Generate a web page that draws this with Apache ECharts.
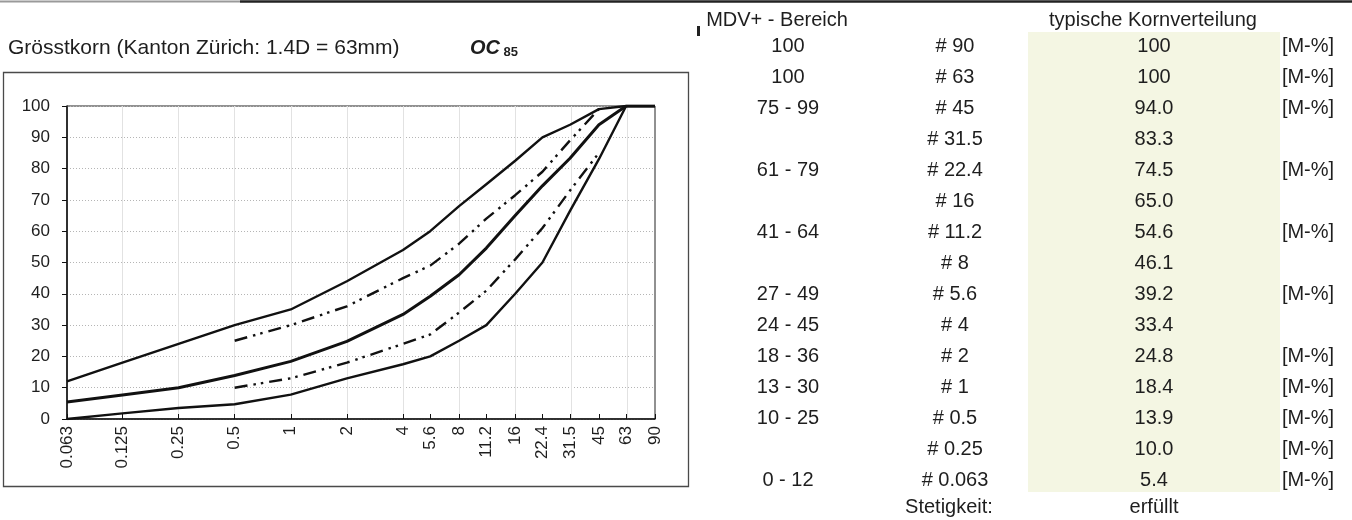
<!DOCTYPE html>
<html><head><meta charset="utf-8">
<script src="https://cdn.jsdelivr.net/npm/echarts@6/dist/echarts.min.js"></script>
<style>html,body{margin:0;padding:0;background:#fff}#c{width:1352px;height:520px}</style>
</head><body><div id="c"></div>
<script>
// ---- chart data ----
const sieves      = [0.063, 0.125, 0.25, 0.5, 1, 2, 4, 5.6, 8, 11.2, 16, 22.4, 31.5, 45, 63, 90];
const sieveLabels = ['0.063','0.125','0.25','0.5','1','2','4','5.6','8','11.2','16','22.4','31.5','45','63','90'];
const gridValues  = [0.125, 0.25, 0.5, 1, 2, 4, 8, 16, 32, 64];
const upperLimit  = [12, 18, 24, 30, 35, 44, 54, 60, 68, 75, 82.5, 90, 94, 99, 100, 100];
const upperBand   = [null, null, null, 25, 30, 36, 45, 49, 56, 64, 71.5, 79, 89, 99, null, null];
const typical     = [5.4, 7.7, 10.0, 13.9, 18.4, 24.8, 33.4, 39.2, 46.1, 54.6, 65.0, 74.5, 83.3, 94.0, 100, 100];
const lowerBand   = [null, null, null, 10, 13, 18, 24, 27, 34, 41, 51, 61, 73, 85, null, null];
const lowerLimit  = [0, 1.8, 3.5, 4.7, 7.8, 13, 17.5, 20, 25, 30, 40, 50, 66.5, 83, 100, 100];
const yMin = 0, yMax = 100, yStep = 10;

// ---- texts ----
const titleText = 'Grösstkorn (Kanton Zürich: 1.4D = 63mm)';
const headerRange = 'MDV+ - Bereich';
const headerTypical = 'typische Kornverteilung';
const rangeCol   = ['100','100','75 - 99','','61 - 79','','41 - 64','','27 - 49','24 - 45','18 - 36','13 - 30','10 - 25','','0 - 12'];
const sieveCol   = ['# 90','# 63','# 45','# 31.5','# 22.4','# 16','# 11.2','# 8','# 5.6','# 4','# 2','# 1','# 0.5','# 0.25','# 0.063'];
const typicalCol = ['100','100','94.0','83.3','74.5','65.0','54.6','46.1','39.2','33.4','24.8','18.4','13.9','10.0','5.4'];
const unitCol    = ['[M-%]','[M-%]','[M-%]','','[M-%]','','[M-%]','','[M-%]','','[M-%]','[M-%]','[M-%]','[M-%]','[M-%]'];
const footLabel = 'Stetigkeit:';
const footValue = 'erfüllt';

const FONT = '"Liberation Sans", Arial, sans-serif';
const INK = '#1e1e1e';

function pairs(arr){ return sieves.map((s,i)=>[s, arr[i]]); }
function nearestLabel(v){
  let best = 0, bd = Infinity;
  sieves.forEach((s,i)=>{ const d = Math.abs(Math.log(v/s)); if (d < bd){ bd = d; best = i; } });
  return sieveLabels[best];
}

const chart = echarts.init(document.getElementById('c'), null, {renderer:'canvas'});

const dashDot = [13, 6, 2.5, 5, 2.5, 6];
function lineSeries(name, arr, width, type){
  return {
    name, type:'line', xAxisIndex:0, yAxisIndex:0,
    data: pairs(arr), connectNulls:false, symbol:'none', silent:true,
    lineStyle:{color:'#111', width, type, cap:'butt', join:'round'},
    z: 5
  };
}

// table graphics
const g = [];
const colX = {range: 788, sieve: 955, typ: 1154, unit: 1308};
const rowY0 = 46, rowStep = 31;
function txt(text, x, y, align, size, extra){
  return Object.assign({
    type:'text', x, y, silent:true, z: 10,
    style:{text, align, verticalAlign:'middle', textAlign:align, textVerticalAlign:'middle',
           fontSize:size, fontFamily:FONT, fill:INK}
  }, extra||{});
}
g.push({type:'rect', shape:{x:1028, y:32, width:252, height:460}, style:{fill:'#f4f6e3'}, z:1, silent:true});
g.push({type:'line', shape:{x1:0, y1:1.5, x2:240, y2:1.5}, style:{stroke:'#9a9a9a', lineWidth:2}, silent:true});
g.push({type:'line', shape:{x1:240, y1:1.5, x2:1352, y2:1.5}, style:{stroke:'#222', lineWidth:2.5}, silent:true});
g.push({type:'rect', shape:{x:697, y:26, width:3, height:10}, style:{fill:'#222'}, silent:true});
g.push({type:'rect', shape:{x:3.5, y:72.5, width:685, height:414}, style:{fill:'none', stroke:'#4a4a4a', lineWidth:1.3}, silent:true, z:0});
g.push(txt(titleText, 8, 48, 'left', 21));
g.push({type:'text', x:470, y:48, silent:true, z:10,
  style:{text:'{a|OC}{b| 85}', align:'left', verticalAlign:'middle', textAlign:'left', textVerticalAlign:'middle',
    rich:{a:{fontSize:20, fontWeight:'bold', fontStyle:'italic', fontFamily:FONT, fill:INK, color:INK},
          b:{fontSize:13, fontWeight:'bold', fontFamily:FONT, fill:INK, color:INK, padding:[8,0,0,0]}}}});
g.push(txt(headerRange, 777, 20, 'center', 20));
g.push(txt(headerTypical, 1153, 20, 'center', 20));
sieveCol.forEach((s,i)=>{
  const y = rowY0 + i*rowStep;
  if (rangeCol[i]) g.push(txt(rangeCol[i], colX.range, y, 'center', 20));
  g.push(txt(s, colX.sieve, y, 'center', 20));
  g.push(txt(typicalCol[i], colX.typ, y, 'center', 20));
  if (unitCol[i]) g.push(txt(unitCol[i], colX.unit, y, 'center', 20));
});
g.push(txt(footLabel, colX.sieve - 6, rowY0 + sieveCol.length*rowStep - 4, 'center', 20));
g.push(txt(footValue, colX.typ, rowY0 + sieveCol.length*rowStep - 4, 'center', 20));

const option = {
  backgroundColor:'#ffffff',
  animation:false,
  grid:{left:67, right:1352-655, top:106, bottom:520-419, show:true, borderColor:'#222', borderWidth:1, backgroundColor:'#fff'},
  xAxis:[
    {
      type:'log', logBase:2, min:0.063, max:90, position:'bottom',
      axisLine:{show:true, lineStyle:{color:'#111', width:1.5}},
      axisTick:{show:true, inside:true, length:5, lineStyle:{color:'#111', width:1}, customValues: sieves},
      axisLabel:{show:true, rotate:90, margin:7, fontSize:17, fontFamily:FONT, color:INK,
                 customValues: sieves, formatter: v => nearestLabel(v)},
      splitLine:{show:false}, minorSplitLine:{show:false}
    },
    {
      type:'log', logBase:2, min:0.063, max:90, position:'top',
      axisLine:{show:false},
      axisTick:{show:false, customValues: gridValues},
      axisLabel:{show:false, customValues: gridValues},
      splitLine:{show:true, lineStyle:{color:'#e2e2e2', width:1}}
    }
  ],
  yAxis:{
    type:'value', min:yMin, max:yMax, interval:yStep,
    axisLine:{show:true, lineStyle:{color:'#111', width:1.5}},
    axisTick:{show:true, inside:false, length:5, lineStyle:{color:'#111'}},
    axisLabel:{fontSize:17, fontFamily:FONT, color:INK, margin:17},
    splitLine:{show:true, lineStyle:{color:'#b5b5b5', width:1, type:[1,2]}}
  },
  series:[
    lineSeries('upperLimit', upperLimit, 2.4, 'solid'),
    lineSeries('upperBand', upperBand, 2.4, dashDot),
    lineSeries('typical', typical, 3, 'solid'),
    lineSeries('lowerBand', lowerBand, 2.4, dashDot),
    lineSeries('lowerLimit', lowerLimit, 2.4, 'solid')
  ],
  graphic: g
};
chart.setOption(option);
</script>
</body></html>
